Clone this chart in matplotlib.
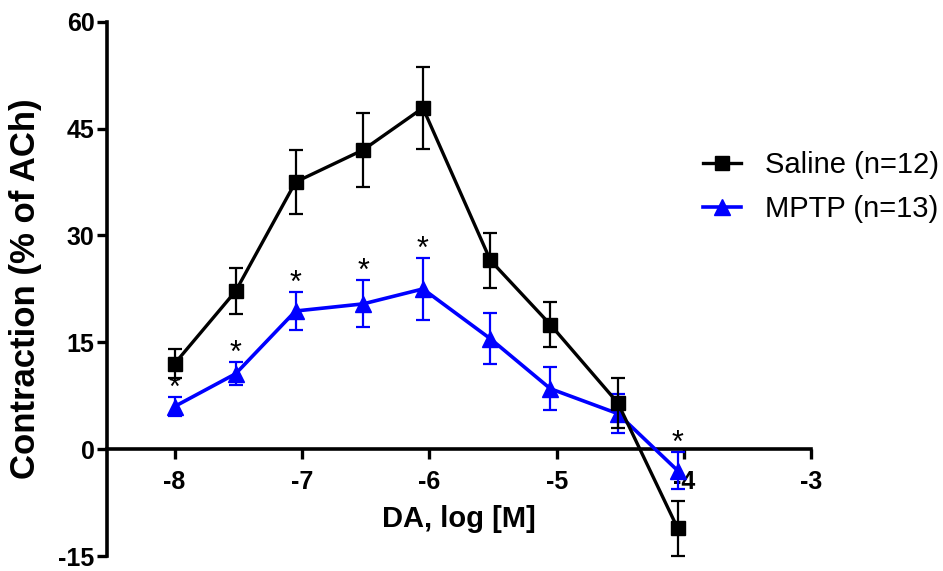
import matplotlib
matplotlib.use("Agg")
import matplotlib.pyplot as plt
from matplotlib.lines import Line2D

plt.rcParams['font.family'] = ['Liberation Sans', 'DejaVu Sans']

# log [M] dopamine concentrations
log_da = [-8, -7.52, -7.05, -6.52, -6.05, -5.52, -5.05, -4.52, -4.05]

saline = [12.0, 22.2, 37.5, 42.0, 47.9, 26.5, 17.5, 6.5, -11.1]
saline_err = [2.0, 3.2, 4.5, 5.2, 5.7, 3.8, 3.2, 3.5, 3.9]

mptp = [6.0, 10.6, 19.4, 20.4, 22.5, 15.5, 8.5, 5.0, -3.0]
mptp_err = [1.3, 1.6, 2.7, 3.3, 4.4, 3.6, 3.0, 2.7, 2.6]

# points marked significant (*)
signif = [0, 1, 2, 3, 4, 8]

xticks = [-8, -7, -6, -5, -4, -3]
yticks = [-15, 0, 15, 30, 45, 60]

blue = '#0000ff'

fig = plt.figure(figsize=(9.43, 5.71), dpi=100)
ax = fig.add_axes([0.1135, 0.026, 0.747, 0.936])

ax.errorbar(log_da, mptp, yerr=mptp_err, color=blue, marker='^',
            markersize=11, linewidth=2.6, elinewidth=1.6, capsize=5,
            capthick=1.6, clip_on=False, zorder=3)
ax.errorbar(log_da, saline, yerr=saline_err, color='black', marker='s',
            markersize=10, linewidth=2.4, elinewidth=1.6, capsize=5,
            capthick=1.6, clip_on=False, zorder=4)

for i in signif:
    ax.annotate('*', (log_da[i], mptp[i] + mptp_err[i]), xytext=(0, -5),
                textcoords='offset points', ha='center', va='bottom',
                fontsize=22, color='black')

ax.set_xlim(-8.53, -3)
ax.set_ylim(-15, 60)
ax.set_xticks(xticks)
ax.set_yticks(yticks)
ax.set_xticklabels([str(t) for t in xticks])
ax.set_yticklabels([str(t) for t in yticks])

ax.spines['top'].set_visible(False)
ax.spines['right'].set_visible(False)
ax.spines['bottom'].set_position(('data', 0))
for s in ['left', 'bottom']:
    ax.spines[s].set_linewidth(2.6)

ax.tick_params(axis='both', width=2.4, length=7, labelsize=18, direction='out')
ax.tick_params(axis='x', pad=8)
ax.tick_params(axis='y', pad=2)
for lab in ax.get_xticklabels() + ax.get_yticklabels():
    lab.set_fontweight('bold')

ax.set_xlabel('DA, log [M]', fontsize=21, fontweight='bold')
ax.xaxis.set_label_coords(0.5, 0.095)
ax.set_ylabel('Contraction (% of ACh)', fontsize=25, fontweight='bold')
ax.yaxis.set_label_coords(-0.092, 0.5)

handles = [Line2D([], [], color='black', marker='s', markersize=10, linewidth=2.4),
           Line2D([], [], color=blue, marker='^', markersize=11, linewidth=2.6)]
ax.legend(handles, ['Saline (n=12)', 'MPTP (n=13)'],
          loc='center left', bbox_to_anchor=(0.83, 0.69), frameon=False,
          fontsize=21, handlelength=1.3, handletextpad=0.8, labelspacing=0.55,
          borderaxespad=0)

fig.savefig('out.png', dpi=100)
